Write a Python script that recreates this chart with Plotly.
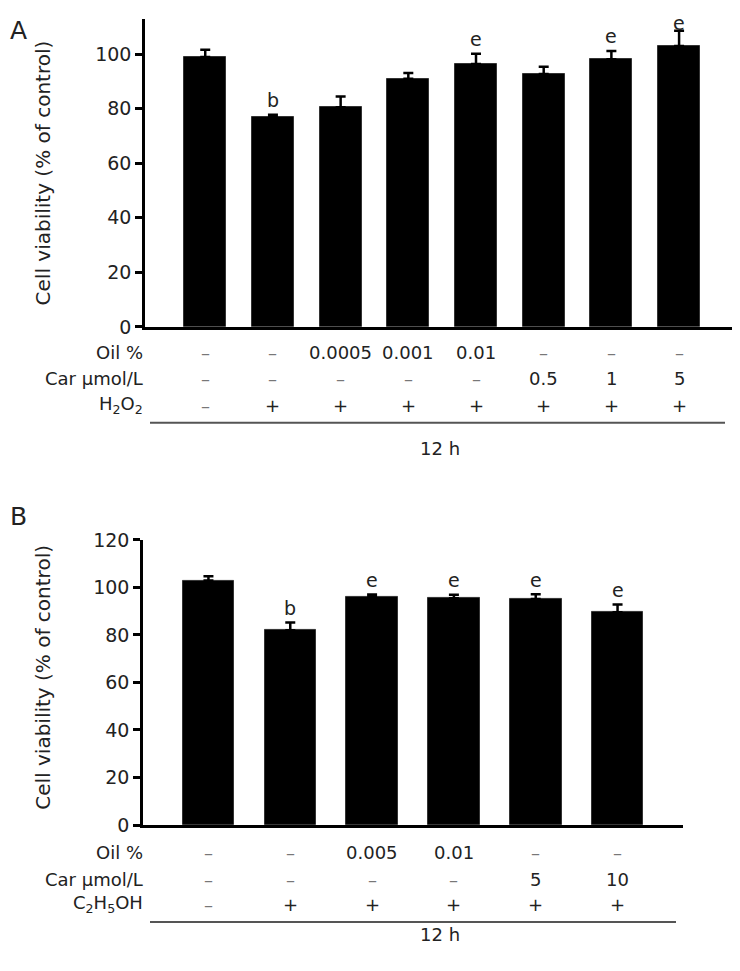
import plotly.graph_objects as go

# ---------------- data ----------------
A_x = [0, 1, 2, 3, 4, 5, 6, 7]
A_vals = [99.0, 76.9, 80.5, 91.0, 96.4, 92.7, 98.1, 103.0]
A_err = [2.6, 0.9, 4.0, 2.1, 3.8, 2.7, 3.1, 5.6]
A_letters = ["", "b", "", "", "e", "", "e", "e"]
A_oil = ["–", "–", "0.0005", "0.001", "0.01", "–", "–", "–"]
A_car = ["–", "–", "–", "–", "–", "0.5", "1", "5"]
A_h2o2 = ["–", "+", "+", "+", "+", "+", "+", "+"]
A_yticks = [0, 20, 40, 60, 80, 100]

B_x = [0, 1, 2, 3, 4, 5]
B_vals = [102.9, 82.0, 96.0, 95.5, 95.1, 89.6]
B_err = [1.8, 3.2, 1.0, 1.4, 2.0, 3.2]
B_letters = ["", "b", "e", "e", "e", "e"]
B_oil = ["–", "–", "0.005", "0.01", "–", "–"]
B_car = ["–", "–", "–", "–", "5", "10"]
B_eth = ["–", "+", "+", "+", "+", "+"]
B_yticks = [0, 20, 40, 60, 80, 100, 120]

row_names_A = ["Oil %", "Car μmol/L", "H<sub>2</sub>O<sub>2</sub>"]
row_names_B = ["Oil %", "Car μmol/L", "C<sub>2</sub>H<sub>5</sub>OH"]
y_title = "Cell viability (% of control)"
time_label = "12 h"

# ---------------- layout helpers ----------------
W, H = 740, 971
OFF = 8  # page body margin
FONT = "DejaVu Sans, Verdana, sans-serif"
TXT = "#222"


def px(p):
    return (p - OFF) / W


def py(p):
    return 1 - (p - OFF) / H


fig = go.Figure()

fig.add_trace(go.Bar(
    x=A_x, y=A_vals, width=0.62,
    marker=dict(color="black", line=dict(color="#333", width=1)),
    error_y=dict(type="data", symmetric=False, array=A_err,
                 arrayminus=[0] * len(A_err), color="black",
                 thickness=2.5, width=5),
    xaxis="x", yaxis="y", showlegend=False, hoverinfo="skip"))

fig.add_trace(go.Bar(
    x=B_x, y=B_vals, width=0.63,
    marker=dict(color="black", line=dict(color="#333", width=1)),
    error_y=dict(type="data", symmetric=False, array=B_err,
                 arrayminus=[0] * len(B_err), color="black",
                 thickness=2.5, width=5),
    xaxis="x2", yaxis="y2", showlegend=False, hoverinfo="skip"))

ax_common = dict(showgrid=False, zeroline=False, showline=True,
                 linecolor="black", linewidth=2.5)

A_pxu = 2.79   # px per unit in panel A
B_pxu = 2.43   # px per unit in panel B
A_top = (323 - OFF) / A_pxu  # value at the top edge of the visible page

fig.update_layout(
    width=W, height=H,
    margin=dict(l=0, r=0, t=0, b=0),
    paper_bgcolor="white", plot_bgcolor="white",
    bargap=0,
    font=dict(family=FONT, color=TXT),
    xaxis=dict(domain=[px(145), px(740)], range=[-0.89, 7.9], anchor="y",
               showticklabels=False, ticks="", **ax_common),
    yaxis=dict(domain=[py(323), 1.0], range=[0, A_top], anchor="x",
               tickvals=A_yticks, ticks="outside", ticklen=7, tickwidth=2.5,
               tickcolor="black", tickfont=dict(size=19, family=FONT, color=TXT),
               **ax_common),
    xaxis2=dict(domain=[px(143), px(683)], range=[-0.8, 5.8], anchor="y2",
                showticklabels=False, ticks="", **ax_common),
    yaxis2=dict(domain=[py(832.7), py(541)], range=[0, 120], anchor="x2",
                tickvals=B_yticks, ticks="outside", ticklen=7, tickwidth=2.5,
                tickcolor="black", tickfont=dict(size=19, family=FONT, color=TXT),
                **ax_common),
)

ann = []

# panel letters
ann.append(dict(text="A", x=px(8), y=py(20), xref="paper", yref="paper",
                xanchor="left", yanchor="middle", showarrow=False,
                font=dict(size=25, family=FONT, color=TXT)))
ann.append(dict(text="B", x=px(8), y=py(517), xref="paper", yref="paper",
                xanchor="left", yanchor="middle", showarrow=False,
                font=dict(size=25, family=FONT, color=TXT)))

# y titles
for yc in (166, 682):
    ann.append(dict(text=y_title, x=px(43), y=py(yc), xref="paper", yref="paper",
                    textangle=-90, showarrow=False, xanchor="center",
                    yanchor="middle", font=dict(size=20, family=FONT, color=TXT)))

# significance letters (centre ~15 px above the error cap, kept inside the page)
for xv, v, e, l in zip(A_x, A_vals, A_err, A_letters):
    if l:
        yc = min(v + e + 15 / A_pxu, A_top - 4.5 / A_pxu)
        ann.append(dict(text=l, x=xv, y=yc, xref="x", yref="y",
                        yanchor="middle", showarrow=False,
                        font=dict(size=19, family=FONT, color=TXT)))
for xv, v, e, l in zip(B_x, B_vals, B_err, B_letters):
    if l:
        ann.append(dict(text=l, x=xv, y=v + e + 15 / B_pxu, xref="x2", yref="y2",
                        yanchor="middle", showarrow=False,
                        font=dict(size=19, family=FONT, color=TXT)))


def add_rows(names, rows, xs, xref, ys, label_x):
    for name, row, yy in zip(names, rows, ys):
        ann.append(dict(text=name, x=px(label_x), y=py(yy), xref="paper",
                        yref="paper", xanchor="right", yanchor="middle",
                        showarrow=False, font=dict(size=18, family=FONT, color=TXT)))
        for xv, t in zip(xs, row):
            col = "#777" if t == "–" else TXT
            ann.append(dict(text=t, x=xv, y=py(yy), xref=xref, yref="paper",
                            xanchor="center", yanchor="middle", showarrow=False,
                            font=dict(size=18, family=FONT, color=col)))


add_rows(row_names_A, [A_oil, A_car, A_h2o2], A_x, "x", [349, 376, 403], 145)
add_rows(row_names_B, [B_oil, B_car, B_eth], B_x, "x2", [861, 888, 914], 145)

# time labels
ann.append(dict(text=time_label, x=px(440), y=py(447), xref="paper", yref="paper",
                showarrow=False, font=dict(size=18, family=FONT, color=TXT)))
ann.append(dict(text=time_label, x=px(440), y=py(958), xref="paper", yref="paper",
                showarrow=False, font=dict(size=18, family=FONT, color=TXT)))

fig.update_layout(annotations=ann)

# underline rules
fig.add_shape(type="line", xref="paper", yref="paper", x0=px(150), x1=px(725),
              y0=py(421), y1=py(421), line=dict(color="#555", width=2))
fig.add_shape(type="line", xref="paper", yref="paper", x0=px(150), x1=px(676),
              y0=py(932), y1=py(932), line=dict(color="#555", width=2))

fig.write_html("out.html")
